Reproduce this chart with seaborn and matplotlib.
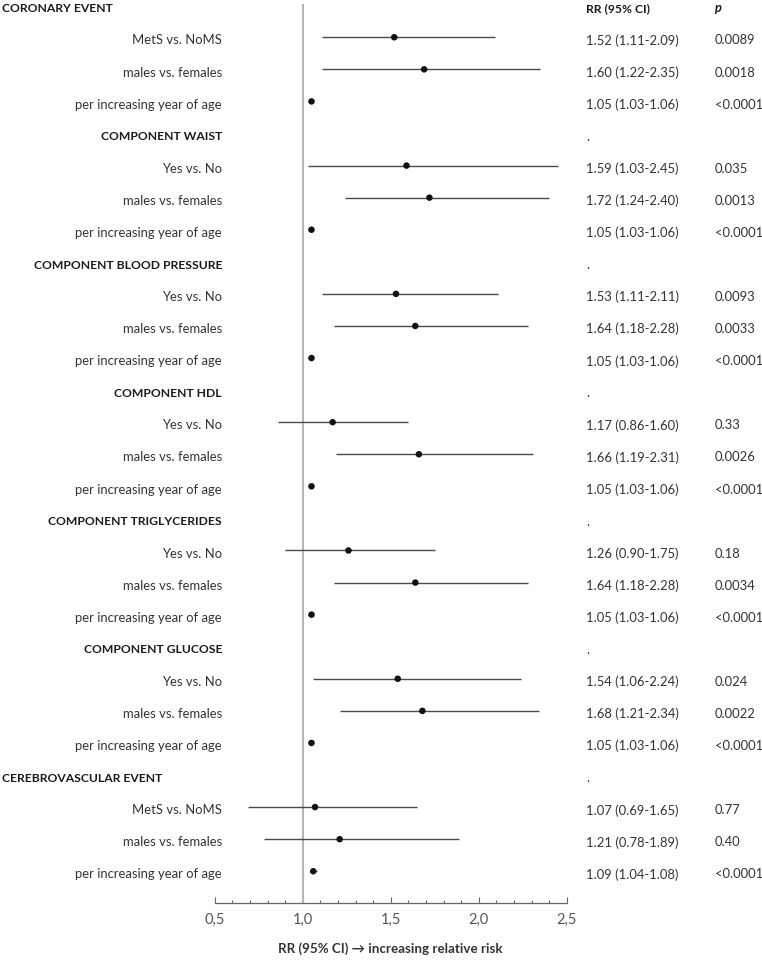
"""Forest plot: relative risks for coronary / cerebrovascular events"""
import matplotlib
matplotlib.use("Agg")
import matplotlib.pyplot as plt
import matplotlib.transforms as mtransforms
from matplotlib.ticker import MultipleLocator, FuncFormatter
import seaborn as sns
import pandas as pd

# Data
groups = ["CORONARY EVENT", "COMPONENT WAIST", "COMPONENT BLOOD PRESSURE",
          "COMPONENT HDL", "COMPONENT TRIGLYCERIDES", "COMPONENT GLUCOSE",
          "CEREBROVASCULAR EVENT"]
first_labels = ["MetS vs. NoMS", "Yes vs. No", "Yes vs. No", "Yes vs. No",
                "Yes vs. No", "Yes vs. No", "MetS vs. NoMS"]
other_labels = ["males vs. females", "per increasing year of age"]

# plotted estimates (as drawn)
rr = [1.52, 1.69, 1.05,
      1.59, 1.72, 1.05,
      1.53, 1.64, 1.05,
      1.17, 1.66, 1.05,
      1.26, 1.64, 1.05,
      1.54, 1.68, 1.05,
      1.07, 1.21, 1.06]
ci_low = [1.11, 1.11, 1.03,
          1.03, 1.24, 1.03,
          1.11, 1.18, 1.03,
          0.86, 1.19, 1.03,
          0.90, 1.18, 1.03,
          1.06, 1.21, 1.03,
          0.69, 0.78, 1.04]
ci_high = [2.09, 2.35, 1.06,
           2.45, 2.40, 1.06,
           2.11, 2.28, 1.06,
           1.60, 2.31, 1.06,
           1.75, 2.28, 1.06,
           2.24, 2.34, 1.06,
           1.65, 1.89, 1.08]
rr_text = ["1.52 (1.11-2.09)", "1.60 (1.22-2.35)", "1.05 (1.03-1.06)",
           "1.59 (1.03-2.45)", "1.72 (1.24-2.40)", "1.05 (1.03-1.06)",
           "1.53 (1.11-2.11)", "1.64 (1.18-2.28)", "1.05 (1.03-1.06)",
           "1.17 (0.86-1.60)", "1.66 (1.19-2.31)", "1.05 (1.03-1.06)",
           "1.26 (0.90-1.75)", "1.64 (1.18-2.28)", "1.05 (1.03-1.06)",
           "1.54 (1.06-2.24)", "1.68 (1.21-2.34)", "1.05 (1.03-1.06)",
           "1.07 (0.69-1.65)", "1.21 (0.78-1.89)", "1.09 (1.04-1.08)"]
p_text = ["0.0089", "0.0018", "<0.0001",
          "0.035", "0.0013", "<0.0001",
          "0.0093", "0.0033", "<0.0001",
          "0.33", "0.0026", "<0.0001",
          "0.18", "0.0034", "<0.0001",
          "0.024", "0.0022", "<0.0001",
          "0.77", "0.40", "<0.0001"]

# Build row table
rows = []
k = 0
for g, first in zip(groups, first_labels):
    rows.append(dict(label=g, header=True, rr=None, lo=None, hi=None, rrt=None, pt=None))
    for lab in [first] + other_labels:
        rows.append(dict(label=lab, header=False, rr=rr[k], lo=ci_low[k], hi=ci_high[k],
                         rrt=rr_text[k], pt=p_text[k]))
        k += 1
df = pd.DataFrame(rows)
df["pos"] = range(len(df))
items = df[~df.header].astype({"rr": float, "lo": float, "hi": float})

sns.set_style("white")
plt.rcParams['font.family'] = ['Lato', 'DejaVu Sans']

W, H = 762, 961
fig = plt.figure(figsize=(W / 100, H / 100), dpi=100)
ax = fig.add_axes([214.7 / W, (H - 903) / H, 352 / W, 899 / H])

ax.axvline(1.0, color='#b4b4b4', lw=1.5, zorder=1)
ax.hlines(items["pos"], items["lo"], items["hi"], color='#4a4a4a', lw=1.0, zorder=2)
sns.scatterplot(data=items, x="rr", y="pos", ax=ax, color='#111111', s=22,
                edgecolor='none', zorder=3, legend=False)

ax.set_xlim(0.5, 2.5)
ax.set_ylim(27.99, -0.037)
ax.set_yticks([])
ax.set_ylabel("")
ax.set_xlabel("RR (95% CI) \u2192 increasing relative risk", fontsize=9.6,
              fontweight='bold', color='#333333', labelpad=11)
ax.xaxis.set_major_locator(MultipleLocator(0.5))
ax.xaxis.set_minor_locator(MultipleLocator(0.1))
ax.xaxis.set_major_formatter(FuncFormatter(lambda v, p: f"{v:.1f}".replace(".", ",")))
ax.tick_params(axis='x', which='major', direction='in', length=4, width=0.8,
               color='#666666', labelsize=10.5, labelcolor='#555555', pad=7, bottom=True)
ax.tick_params(axis='x', which='minor', direction='in', length=2.5, width=0.8,
               color='#666666', bottom=True)
for side in ['top', 'right', 'left']:
    ax.spines[side].set_visible(False)
ax.spines['bottom'].set_color('#666666')
ax.spines['bottom'].set_linewidth(0.9)

# Text columns
trans = mtransforms.blended_transform_factory(fig.transFigure, ax.transData)
x_lab = 222 / W
x_rr = 586 / W
x_p = 715 / W
fs = 9.4
fs_b = 8.7
dy = 0.1
for _, r in df.iterrows():
    y = r["pos"] + dy
    if r["header"]:
        if r["label"] in ("CORONARY EVENT", "CEREBROVASCULAR EVENT"):
            fig.text(2 / W, y, r["label"], transform=trans, ha='left', va='center',
                     fontsize=fs_b, fontweight='bold', color='#1a1a1a')
        else:
            fig.text(x_lab, y, r["label"], transform=trans, ha='right', va='center',
                     fontsize=fs_b, fontweight='bold', color='#1a1a1a')
        if r["label"] == "CORONARY EVENT":
            fig.text(x_rr, y, "RR (95% CI)", transform=trans, ha='left', va='center',
                     fontsize=fs_b, fontweight='bold', color='#1a1a1a')
            fig.text(x_p, y, "p", transform=trans, ha='left', va='center',
                     fontsize=fs_b + 0.5, fontweight='bold', style='italic', color='#1a1a1a')
        else:
            fig.text(x_rr, y, ".", transform=trans, ha='left', va='center',
                     fontsize=fs, color='#333333')
    else:
        fig.text(x_lab, y, r["label"], transform=trans, ha='right', va='center',
                 fontsize=fs, color='#333333')
        fig.text(x_rr, y, r["rrt"], transform=trans, ha='left', va='center',
                 fontsize=fs, color='#333333')
        fig.text(x_p, y, r["pt"], transform=trans, ha='left', va='center',
                 fontsize=fs, color='#333333')

fig.savefig("out.png", dpi=100)
